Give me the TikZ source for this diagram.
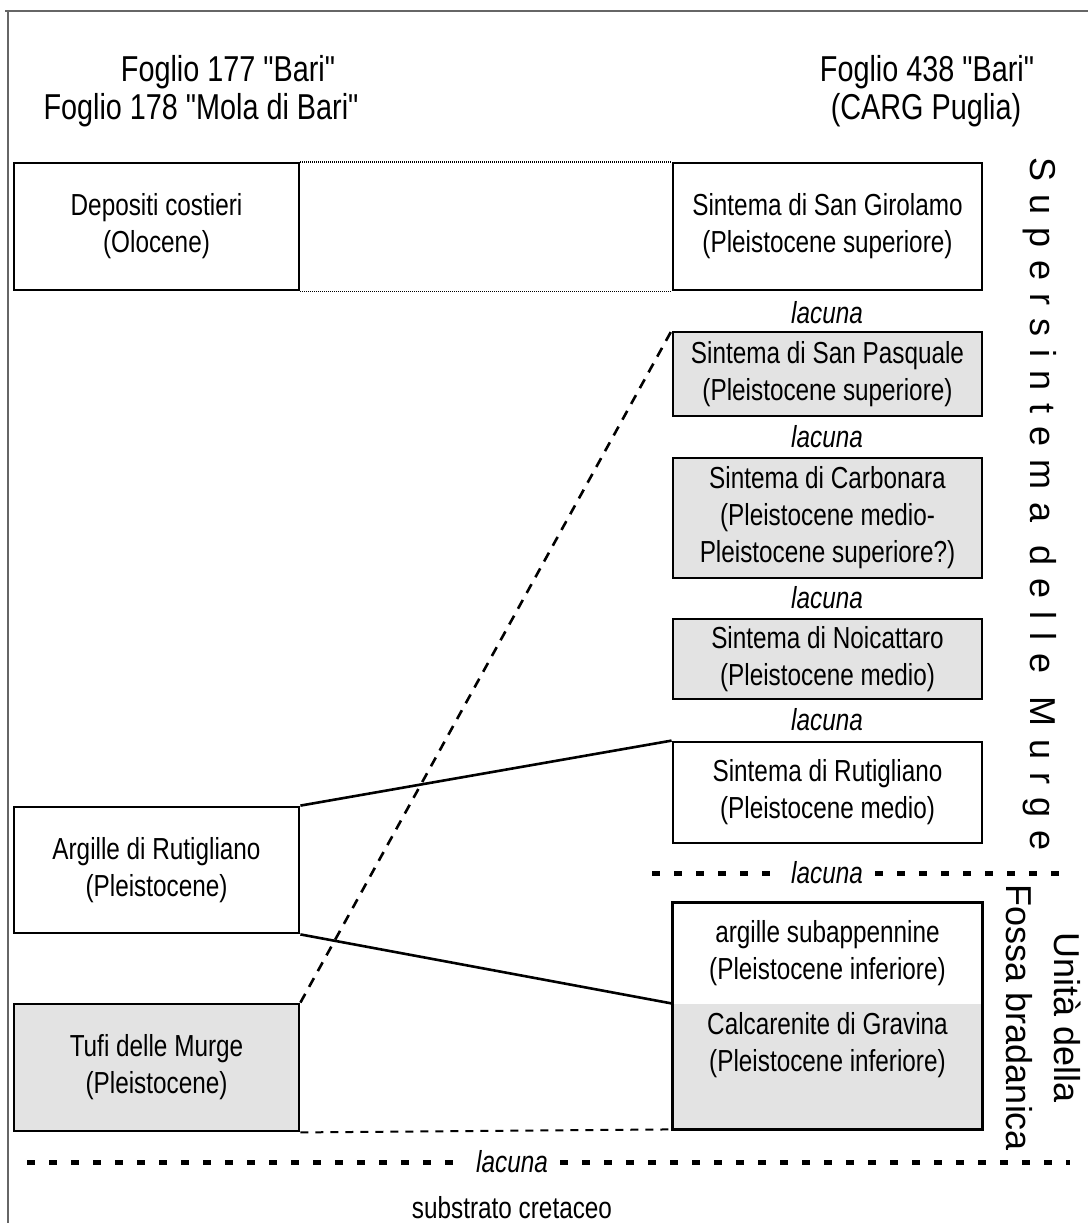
\documentclass[tikz,border=0pt]{standalone}
\usepackage{fontspec}
\setmainfont[FakeStretch=0.8,Ligatures=TeXOff]{Liberation Sans}
\newfontfamily\sidefont{Liberation Sans}
\newfontfamily\spacedfont[LetterSpace=36]{Liberation Sans}

\begin{document}
\begin{tikzpicture}[
  x=0.5pt, y=-0.5pt,
  every node/.style={font=\fontsize{15.2}{18.5}\selectfont, align=center, inner sep=0pt},
  unitw/.style={draw, line width=1.4pt, fill=white},
  unitg/.style={draw, line width=1.4pt, fill=black!11},
  leftcol/.style={minimum width=142.5pt},
  rightcol/.style={minimum width=154.5pt},
  head/.style={font=\fontsize{18}{19}\selectfont},
  lac/.style={font=\fontsize{15.2}{18.5}\selectfont\itshape, fill=white, inner xsep=6pt},
  side/.style={rotate=-90, font=\sidefont\fontsize{18}{24}\selectfont},
  gapline/.style={line width=2.5pt, dash pattern=on 4pt off 7pt},
  link/.style={line width=1.3pt},
  fine/.style={line width=0.9pt, dash pattern=on 0.5pt off 0.5pt},
  frame/.style={line width=1pt, black!60}
]
  \useasboundingbox (0,0) rectangle (1088,1223);
  \draw[frame] (5,11) -- (1088,11);
  \draw[frame] (8,11) -- (8,1223);

  % intestazioni
  \node[head] (lhead1) at (228,72) {Foglio 177 "Bari"};
  \node[head] (lhead2) at (201,110) {Foglio 178 "Mola di Bari"};
  \node[head] (rhead1) at (927,72) {Foglio 438 "Bari"};
  \node[head] (rhead2) at (926,110) {(CARG Puglia)};

  % colonna sinistra
  \node[unitw, leftcol, minimum height=63.5pt] (dep) at (156.5,226.5) {Depositi costieri\\(Olocene)};
  \node[unitw, leftcol, minimum height=63pt] (arg) at (156.5,870) {Argille di Rutigliano\\(Pleistocene)};
  \node[unitg, leftcol, minimum height=63.5pt] (tufi) at (156.5,1067.5) {Tufi delle Murge\\(Pleistocene)};

  % colonna destra
  \node[unitw, rightcol, minimum height=63.5pt] (gir) at (827.5,226.5) {Sintema di San Girolamo\\(Pleistocene superiore)};
  \node[lac] (lac1) at (827,313) {lacuna};
  \node[unitg, rightcol, minimum height=42pt] (pasq) at (827.5,374) {Sintema di San Pasquale\\(Pleistocene superiore)};
  \node[lac] (lac2) at (827,437) {lacuna};
  \node[unitg, rightcol, minimum height=60pt] (carb) at (827.5,518) {Sintema di Carbonara\\(Pleistocene medio-\\Pleistocene superiore?)};
  \node[lac] (lac3) at (827,598) {lacuna};
  \node[unitg, rightcol, minimum height=40pt] (noic) at (827.5,659) {Sintema di Noicattaro\\(Pleistocene medio)};
  \node[lac] (lac4) at (827,720) {lacuna};
  \node[unitw, rightcol, minimum height=50.5pt] (rut) at (827.5,792.5) {Sintema di Rutigliano\\(Pleistocene medio)};
  \node[fill=white, rightcol, minimum height=50.5pt] (subapp) at (827.5,953.5) {argille subappennine\\(Pleistocene inferiore)};
  \node[fill=black!11, rightcol, minimum height=62.5pt] (grav) at (827.5,1066.5) {Calcarenite di Gravina\\(Pleistocene inferiore)\\[6pt]};
  \draw[line width=1.4pt] (subapp.north west) rectangle (grav.south east);

  % lacune
  \coordinate (midL) at (652,873);
  \coordinate (midR) at (1068,873);
  \node[lac] (lacmid) at (827,873) {lacuna};
  \draw[gapline] (midL) -- (lacmid.west);
  \draw[gapline] (lacmid.east) -- (midR);
  \coordinate (botL) at (27,1162);
  \coordinate (botR) at (1070,1162);
  \node[lac] (lacbot) at (512,1162) {lacuna};
  \draw[gapline] (botL) -- (lacbot.west);
  \draw[gapline] (lacbot.east) -- (botR);
  \node (sub) at (512,1208) {substrato cretaceo};

  % correlazioni
  \draw[fine] (dep.north east) -- (gir.north west);
  \draw[fine] (dep.south east) -- (gir.south west);
  \draw[link] (arg.north east) -- (rut.north west);
  \draw[link] (arg.south east) -- (grav.north west);
  \draw[link, dash pattern=on 5pt off 4pt] (tufi.north east) -- (pasq.north west);
  \draw[line width=1pt, dash pattern=on 4pt off 3.5pt] (tufi.south east) -- (grav.south west);

  % etichette laterali
  \node[side, font=\spacedfont\fontsize{18}{24}\selectfont] (supers) at (1040,504) {Supersintema delle Murge};
  \node[side] (bradan) at (1044,1018) {Unità della\\Fossa bradanica};
\end{tikzpicture}
\end{document}
